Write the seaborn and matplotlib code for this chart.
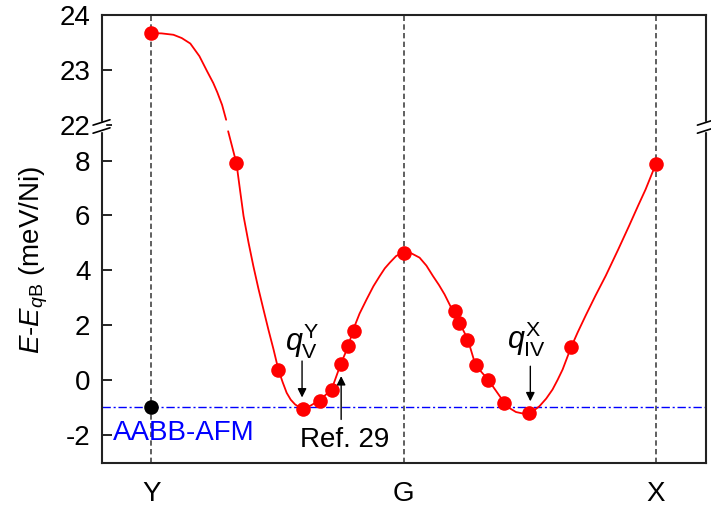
import numpy as np
import pandas as pd
import matplotlib
matplotlib.use('Agg')
import matplotlib.pyplot as plt
from matplotlib.patches import Rectangle
import seaborn as sns

# path positions of the high-symmetry points
path_pos = [0.0, 1.0, 2.0]
path_labels = ['Y', 'G', 'X']

# calculated energies (meV/Ni) along Y-G-X
pts_x = [0.0, 0.337, 0.503, 0.601, 0.668, 0.716, 0.752, 0.780, 0.801, 1.0,
         1.202, 1.221, 1.252, 1.285, 1.334, 1.399, 1.498, 1.665, 1.999]
pts_e = [23.67, 7.9, 0.38, -1.05, -0.75, -0.35, 0.57, 1.25, 1.80, 4.64,
         2.51, 2.07, 1.46, 0.53, 0.0, -0.85, -1.20, 1.19, 7.87]

# fitted red line (two pieces around the axis break)
curve_x_top = [0.0, 0.04, 0.087, 0.12, 0.154, 0.19, 0.221, 0.245, 0.261,
               0.28, 0.296]
curve_e_top = [23.67, 23.665, 23.64, 23.58, 23.48, 23.25, 22.97, 22.76, 22.59,
               22.36, 22.09]
curve_x_low = [0.304, 0.337, 0.35, 0.365, 0.385, 0.404, 0.424, 0.444, 0.464,
               0.484, 0.503, 0.52, 0.536, 0.552, 0.569, 0.585, 0.601, 0.615,
               0.632, 0.668, 0.714, 0.750, 0.780, 0.800, 0.825, 0.853, 0.88,
               0.905, 0.925, 0.945, 0.97, 1.0, 1.03, 1.063, 1.09, 1.116, 1.14,
               1.162, 1.195, 1.221, 1.254, 1.285, 1.334, 1.399, 1.42, 1.445,
               1.47, 1.498, 1.518, 1.538, 1.565, 1.590, 1.610, 1.630, 1.663,
               1.69, 1.722, 1.76, 1.801, 1.85, 1.893, 1.93, 1.959, 1.999]
curve_e_low = [9.07, 7.9, 7.0, 5.98, 5.0, 4.15, 3.33, 2.57, 1.82,
               1.11, 0.38, -0.08, -0.47, -0.72, -0.89, -0.99, -1.04, -1.01,
               -0.93, -0.73, -0.35, 0.57, 1.23, 1.84, 2.42, 2.94, 3.42,
               3.79, 4.07, 4.28, 4.52, 4.66, 4.62, 4.46, 4.17, 3.79, 3.46,
               3.12, 2.51, 2.09, 1.48, 0.53, 0.02, -0.83, -1.03, -1.17,
               -1.22, -1.20, -1.10, -0.96, -0.68, -0.35, 0.0, 0.38, 1.18,
               1.74, 2.36, 3.07, 3.80, 4.75, 5.61, 6.37, 6.95, 7.86]

afm_e = -0.98  # AABB-AFM reference energy

curve = pd.DataFrame({
    'x': curve_x_top + curve_x_low,
    'e': curve_e_top + curve_e_low,
    'piece': ['top'] * len(curve_x_top) + ['low'] * len(curve_x_low),
})
points = pd.DataFrame({'x': pts_x, 'e': pts_e})

sns.set_style('ticks')
plt.rcParams['font.family'] = ['Liberation Sans', 'DejaVu Sans']
plt.rcParams['mathtext.fontset'] = 'custom'
plt.rcParams['mathtext.rm'] = 'Liberation Sans'
plt.rcParams['mathtext.it'] = 'Liberation Sans:italic'
for key in ['text.color', 'axes.labelcolor', 'xtick.color', 'ytick.color']:
    plt.rcParams[key] = 'black'

# broken y axis: lower part up to BRK, upper part from 22 drawn at double scale
BRK = 9.3
GAP = 0.01


def fwd(y):
    y = np.asarray(y, dtype=float)
    return np.where(y <= BRK, y,
                    np.where(y >= 22, BRK + GAP + 2 * (y - 22),
                             BRK + GAP * (y - BRK) / (22 - BRK)))


def inv(v):
    v = np.asarray(v, dtype=float)
    return np.where(v <= BRK, v,
                    np.where(v >= BRK + GAP, 22 + (v - BRK - GAP) / 2,
                             BRK + (v - BRK) * (22 - BRK) / GAP))


fig = plt.figure(figsize=(7.11, 5.11), dpi=100)
ax = fig.add_axes([0.1428, 0.0939, 0.850, 0.8767])
ax.set_yscale('function', functions=(fwd, inv))
ax.set_xlim(-0.198, 2.198)
ax.set_ylim(-3.03, 24)

for xp in path_pos:
    ax.axvline(xp, color='#444444', lw=1.2, ls=(0, (3.2, 2.0)), zorder=1)
ax.axhline(afm_e, color='blue', lw=1.0, ls=(0, (6, 2, 1.5, 2)), zorder=1)

sns.lineplot(data=curve, x='x', y='e', units='piece', estimator=None,
             sort=False, color='red', lw=1.3, ax=ax, zorder=2)
sns.scatterplot(data=points, x='x', y='e', color='red', s=110,
                linewidth=0, ax=ax, zorder=3)
sns.scatterplot(x=[0.0], y=[afm_e], color='black', s=110, linewidth=0,
                ax=ax, zorder=3)

ax.set_xticks(path_pos)
ax.set_xticklabels(path_labels)
ax.set_yticks([-2, 0, 2, 4, 6, 8, 22, 23, 24])
ax.set_yticklabels(['-2', '0', '2', '4', '6', '8', '22', '23', '24'])
ax.tick_params(axis='x', length=0, pad=13, labelsize=20)
ax.tick_params(axis='y', direction='in', length=7, width=1.2, pad=8,
               labelsize=20, right=False)
ax.set_xlabel('')
ax.set_ylabel('')
for sp in ax.spines.values():
    sp.set_color('#222222')
    sp.set_linewidth(1.5)

# break marks on both side spines
y0, y1 = fwd(-3.03), fwd(24)
yb = float((fwd(22) - y0) / (y1 - y0)) - 0.004
for xs in [0.0, 1.0]:
    ax.add_patch(Rectangle((xs - 0.006, yb - 0.009), 0.012, 0.018,
                           transform=ax.transAxes, color='white',
                           clip_on=False, zorder=5))
    for dy in [-0.009, 0.009]:
        ax.plot([xs - 0.014, xs + 0.014], [yb + dy - 0.006, yb + dy + 0.006],
                transform=ax.transAxes, color='black', lw=1.2,
                clip_on=False, zorder=6)

# annotations
arrow = dict(arrowstyle='-|>', color='black', lw=1.0, mutation_scale=13,
             shrinkA=0, shrinkB=0)
ax.annotate('', xy=(0.597, -0.64), xytext=(0.597, 0.69), arrowprops=arrow)
ax.text(0.597, 1.4, r'$q_{\mathrm{V}}^{\mathrm{Y}}$', ha='center',
        va='center', fontsize=22)
ax.annotate('', xy=(0.752, 0.14), xytext=(0.752, -1.44), arrowprops=arrow)
ax.text(0.767, -2.2, 'Ref. 29', ha='center', va='center', fontsize=20)
ax.annotate('', xy=(1.502, -0.78), xytext=(1.502, 0.5), arrowprops=arrow)
ax.text(1.485, 1.5, r'$q_{\mathrm{IV}}^{\mathrm{X}}$', ha='center',
        va='center', fontsize=22)
ax.text(-0.154, -1.92, 'AABB-AFM', color='blue', ha='left',
        va='center', fontsize=20)

fig.text(34 / 711, 1 - 260 / 511, r'$E$-$E_{q\mathrm{B}}$ (meV/Ni)',
         rotation=90, ha='center', va='center', fontsize=20)

fig.savefig('out.png', dpi=100)
